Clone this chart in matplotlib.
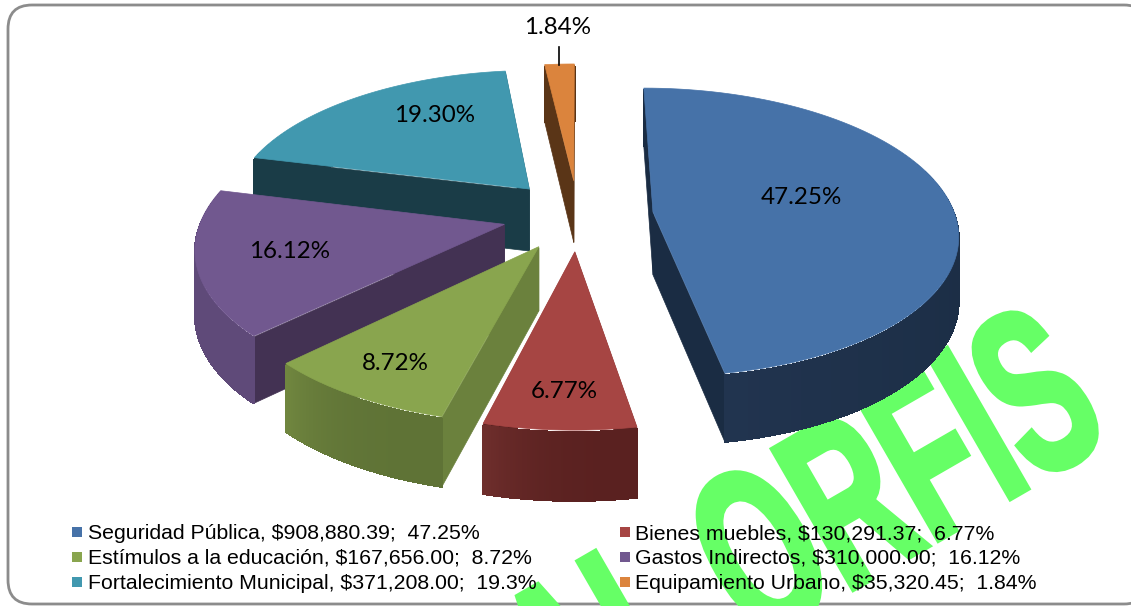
import numpy as np
import matplotlib
matplotlib.use("Agg")
import matplotlib.pyplot as plt
import matplotlib.patheffects as pe
from matplotlib.collections import PolyCollection
from matplotlib.patches import FancyBboxPatch, Polygon, Rectangle
from matplotlib.transforms import Affine2D

names = ["Seguridad Pública", "Bienes muebles", "Estímulos a la educación",
         "Gastos Indirectos", "Fortalecimiento Municipal", "Equipamiento Urbano"]
amounts = [908880.39, 130291.37, 167656.00, 310000.00, 371208.00, 35320.45]
legend_pct = ["47.25", "6.77", "8.72", "16.12", "19.3", "1.84"]
slice_labels = ["47.25%", "6.77%", "8.72%", "16.12%", "19.30%", "1.84%"]

# style, one entry per slice
top_colors = ["#4672A8", "#A64543", "#89A54E", "#71588F", "#4198AF", "#DB843D"]
face_colors = ["#1A2C43", "#5A2120", "#6B813D", "#433253", "#1A3C47", "#5A3517"]
wall_start = ["#1A2C43", "#5A2120", "#5F7336", "#5F4A79", "#1A3C47", "#5A3517"]
wall_end = ["#21344F", "#6E2E2C", "#70863F", "#5F4A79", "#1A3C47", "#5A3517"]
label_xy = [(801, 197), (564, 392), (395, 363), (290, 252), (435, 116), (558, 28)]

# pie projection, in pixels
CX, CY = 578, 215
RX, RY = 302, 142
PERSP = 0.14
EXPLODE = 0.25
DEPTH = 63


def squeeze_effect(sx, grow):
    class Squeeze(pe.AbstractPathEffect):
        def draw_path(self, renderer, gc, tpath, affine, rgbFace=None):
            gc0 = renderer.new_gc()
            gc0.copy_properties(gc)
            gc0.set_foreground(rgbFace)
            gc0.set_linewidth(grow)
            gc0.set_joinstyle("miter")
            renderer.draw_path(gc0, tpath, Affine2D().scale(sx, 1) + affine, rgbFace)
            gc0.restore()
    return Squeeze()


def project(x, y):
    w = 1 / (1 - PERSP * y)
    return CX + x * w * RX, CY + y * w * RY, DEPTH * w ** 0.6


def mix(c1, c2, t):
    a = np.array(matplotlib.colors.to_rgb(c1))
    b = np.array(matplotlib.colors.to_rgb(c2))
    return a + (b - a) * t


fig = plt.figure(figsize=(11.31, 6.06), dpi=100)
ax = fig.add_axes([0, 0, 1, 1])
ax.set_xlim(0, 1131)
ax.set_ylim(606, 0)
ax.axis("off")

ax.add_patch(FancyBboxPatch((8, 5), 1140, 599, boxstyle="round,pad=0,rounding_size=24",
                            fc="white", ec="#8C8C8C", lw=2, zorder=0))

# watermark sits behind the chart
ax.text(566, 755, "AL ORFIS", fontsize=169, fontweight="bold", family="Liberation Sans",
        color="#66FF66", rotation=30, rotation_mode="anchor", ha="left", va="baseline",
        path_effects=[squeeze_effect(0.58, 4)], zorder=1, clip_on=True)

fractions = np.array(amounts) / sum(amounts)
edges = np.concatenate([[0], np.cumsum(fractions)]) * 2 * np.pi

# back to front
z = 2
for i in [5, 4, 3, 0, 2, 1]:
    a0, a1 = edges[i], edges[i + 1]
    mid = (a0 + a1) / 2
    ox, oy = EXPLODE * np.sin(mid), -EXPLODE * np.cos(mid)
    theta = np.linspace(a0, a1, 90)
    px, py, pd = project(ox + np.sin(theta), oy - np.cos(theta))
    ax0, ay0, ad0 = project(ox, oy)

    # radial faces
    for k in [-1, 0]:
        ax.add_patch(Polygon([(ax0, ay0 + 1), (px[k], py[k] + 1), (px[k], py[k] + pd[k]), (ax0, ay0 + ad0)],
                             fc=face_colors[i], ec=face_colors[i], lw=0.5, zorder=z))
    z += 1

    # outer wall, top edge pulled in so it does not show around the top
    quads = []
    cols = []
    for j in range(len(theta) - 1):
        quads.append([(px[j], py[j] + 2), (px[j + 1], py[j + 1] + 2),
                      (px[j + 1], py[j + 1] + pd[j + 1]), (px[j], py[j] + pd[j])])
        cols.append(mix(wall_start[i], wall_end[i], (j / (len(theta) - 2)) ** 3))
    ax.add_collection(PolyCollection(quads, facecolors=cols, edgecolors=cols, linewidths=0.8,
                                     antialiaseds=False, zorder=z))
    z += 1

    # top
    top = [(ax0, ay0)] + list(zip(px, py))
    ax.add_patch(Polygon(top, fc=top_colors[i], ec=top_colors[i], lw=0.5, zorder=z))
    z += 1

for lab, (lx, ly) in zip(slice_labels, label_xy):
    ax.text(lx, ly, lab, fontsize=17.4, family="Lato", color="black", ha="center", va="center", zorder=50)
ax.plot([559, 559], [47, 65], color="black", lw=1.2, zorder=50)

# legend, two columns, row by row
col_x = [72, 620]
row_y = [532, 557, 582]
for i in range(6):
    sx = col_x[i % 2]
    sy = row_y[i // 2]
    ax.add_patch(Rectangle((sx, sy - 5), 10, 10, fc=top_colors[i], ec="none", zorder=50))
    ax.text(sx + 16 - (i % 2) * 1, sy + 1.5, f"{names[i]}, ${amounts[i]:,.2f};  {legend_pct[i]}%", fontsize=15.3,
            family="Liberation Sans", color="black", ha="left", va="center", zorder=50)

fig.savefig("out.png", dpi=100)
